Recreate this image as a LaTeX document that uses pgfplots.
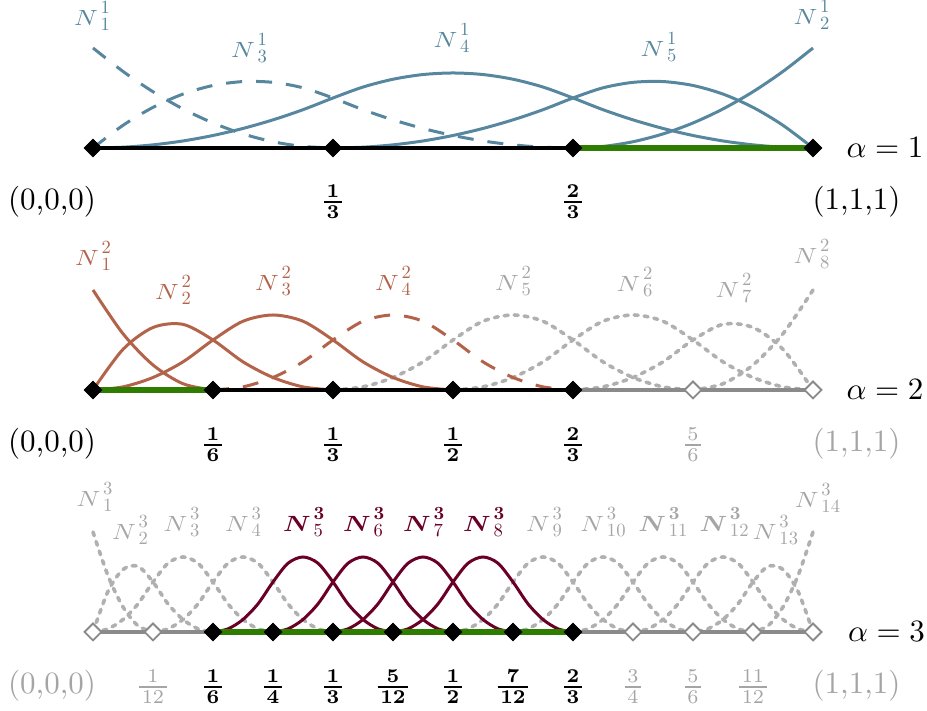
\documentclass[border=0pt]{standalone}
\usepackage{bm}
\usepackage{pgfplots}
\pgfplotsset{compat=1.18}
\definecolor{cblue}{HTML}{56879E}
\definecolor{cbrown}{HTML}{B4634B}
\definecolor{cred}{HTML}{6A0028}
\definecolor{cgreen}{HTML}{2E7D00}
\definecolor{cdot}{HTML}{B0B0B0}
\definecolor{cline}{HTML}{8A8A8A}
\definecolor{clab}{HTML}{A5A5A5}
\tikzset{mylab/.style={scale=1.55, inner sep=0pt},
         myfr/.style={scale=1.4, inner sep=0pt},
         myN/.style={inner sep=0pt}}
\newcommand\bfr[2]{\frac{\mkern2mu\mathbf{#1}\mkern2mu}{\mkern2mu\mathbf{#2}\mkern2mu}}
\newcommand\nfr[2]{\frac{\mkern2mu #1\mkern2mu}{\mkern2mu #2\mkern2mu}}
% N label: #1 = N glyph (math), #2 = superscript, #3 = subscript
\newcommand\NN[3]{\scalebox{1.3}[1.1]{$#1$}\hspace{1.4pt}\rlap{\raisebox{5.85pt}{\scalebox{0.93}{#2}}}\raisebox{-2.5pt}{\scalebox{0.93}{#3}}}
\pgfplotsset{
  myrow/.style={hide axis, clip=false, x=7.5pt, y=50pt, xmin=-6.2, xmax=55.6, ymin=-5.63, ymax=1.48, anchor=south west},
  mycurve/.style={line width=1.5pt, smooth},
  mydash/.style={dash pattern=on 8pt off 7pt},
  mydot/.style={cdot, line width=1.8pt, smooth, dash pattern=on 2pt off 3pt, line cap=round},
  mybase/.style={line width=1.6pt},
  mygreen/.style={cgreen, line width=3.2pt},
  mybd/.style={only marks, mark=square*, mark size=3.1pt, mark options={rotate=45, fill=black, draw=black}},
  myhd/.style={only marks, mark=square*, mark size=3.0pt, mark options={rotate=45, fill=white, draw=cline, line width=0.9pt}},
}
\begin{document}
\begin{tikzpicture}
% ---------------- Row 1 ----------------
\begin{axis}[myrow, at={(0,0)}]
\addplot[cblue, mycurve, mydash] coordinates {(0,1)(2,0.7656)(4,0.5625)(6,0.3906)(8,0.25)(10,0.1406)(12,0.0625)(14,0.0156)(16,0)};
\addplot[cblue, mycurve, mydash] coordinates {(0,0)(2,0.2266)(4,0.4063)(6,0.5391)(8,0.625)(10,0.6641)(12,0.6563)(14,0.6016)(16,0.5)(18,0.3828)(20,0.2813)(22,0.1953)(24,0.125)(26,0.0703)(28,0.0313)(30,0.0078)(32,0)};
\addplot[cblue, mycurve] coordinates {(0,0)(2,0.0078)(4,0.0313)(6,0.0703)(8,0.125)(10,0.1953)(12,0.2813)(14,0.3828)(16,0.5)(18,0.6094)(20,0.6875)(22,0.7344)(24,0.75)(26,0.7344)(28,0.6875)(30,0.6094)(32,0.5)(34,0.3828)(36,0.2813)(38,0.1953)(40,0.125)(42,0.0703)(44,0.0313)(46,0.0078)(48,0)};
\addplot[cblue, mycurve] coordinates {(48,0)(46,0.2266)(44,0.4063)(42,0.5391)(40,0.625)(38,0.6641)(36,0.6563)(34,0.6016)(32,0.5)(30,0.3828)(28,0.2813)(26,0.1953)(24,0.125)(22,0.0703)(20,0.0313)(18,0.0078)(16,0)};
\addplot[cblue, mycurve] coordinates {(48,1)(46,0.7656)(44,0.5625)(42,0.3906)(40,0.25)(38,0.1406)(36,0.0625)(34,0.0156)(32,0)};
\addplot[black, mybase] coordinates {(0,0)(48,0)};
\addplot[mygreen] coordinates {(32,0)(48,0)};
\addplot[mybd] coordinates {(0,0)(16,0)(32,0)(48,0)};
\node[myN, text=cblue] at (axis cs:-0.07,1.32) {\NN{N}{1}{1}};
\node[myN, text=cblue] at (axis cs:10.4,1.0) {\NN{N}{1}{3}};
\node[myN, text=cblue] at (axis cs:23.9,1.10) {\NN{N}{1}{4}};
\node[myN, text=cblue] at (axis cs:37.7,1.01) {\NN{N}{1}{5}};
\node[myN, text=cblue] at (axis cs:47.9,1.33) {\NN{N}{1}{2}};
\node[mylab] at (axis cs:52.8,0) {$\alpha = 1$};
\node[mylab] at (axis cs:-2.73,-0.54) {(0,0,0)};
\node[myfr] at (axis cs:16,-0.54) {$\bfr{1}{3}$};
\node[myfr] at (axis cs:32,-0.54) {$\bfr{2}{3}$};
\node[mylab] at (axis cs:50.9,-0.54) {(1,1,1)};
\end{axis}
% ---------------- Row 2 ----------------
\begin{axis}[myrow, at={(0,-121pt)}]
\addplot[mydot] coordinates {(16,0)(18,0.0313)(20,0.125)(22,0.2813)(24,0.5)(26,0.6875)(28,0.75)(30,0.6875)(32,0.5)(34,0.2813)(36,0.125)(38,0.0313)(40,0)};
\addplot[mydot] coordinates {(24,0)(26,0.0313)(28,0.125)(30,0.2813)(32,0.5)(34,0.6875)(36,0.75)(38,0.6875)(40,0.5)(42,0.2813)(44,0.125)(46,0.0313)(48,0)};
\addplot[mydot] coordinates {(48,0)(46,0.4063)(44,0.625)(42,0.6563)(40,0.5)(38,0.2813)(36,0.125)(34,0.0313)(32,0)};
\addplot[mydot] coordinates {(48,1)(46,0.5625)(44,0.25)(42,0.0625)(40,0)};
\addplot[cbrown, mycurve] coordinates {(0,1)(2,0.5625)(4,0.25)(6,0.0625)(8,0)};
\addplot[cbrown, mycurve] coordinates {(0,0)(2,0.4063)(4,0.625)(6,0.6563)(8,0.5)(10,0.2813)(12,0.125)(14,0.0313)(16,0)};
\addplot[cbrown, mycurve] coordinates {(0,0)(2,0.0313)(4,0.125)(6,0.2813)(8,0.5)(10,0.6875)(12,0.75)(14,0.6875)(16,0.5)(18,0.2813)(20,0.125)(22,0.0313)(24,0)};
\addplot[cbrown, mycurve, mydash] coordinates {(8,0)(10,0.0313)(12,0.125)(14,0.2813)(16,0.5)(18,0.6875)(20,0.75)(22,0.6875)(24,0.5)(26,0.2813)(28,0.125)(30,0.0313)(32,0)};
\addplot[black, mybase] coordinates {(0,0)(32,0)};
\addplot[cline, mybase] coordinates {(32,0)(48,0)};
\addplot[mygreen] coordinates {(0,0)(8,0)};
\addplot[mybd] coordinates {(0,0)(8,0)(16,0)(24,0)(32,0)};
\addplot[myhd] coordinates {(40,0)(48,0)};
\node[myN, text=cbrown] at (axis cs:0,1.34) {\NN{N}{2}{1}};
\node[myN, text=cbrown] at (axis cs:5.33,1.0) {\NN{N}{2}{2}};
\node[myN, text=cbrown] at (axis cs:12,1.09) {\NN{N}{2}{3}};
\node[myN, text=cbrown] at (axis cs:20,1.09) {\NN{N}{2}{4}};
\node[myN, text=clab] at (axis cs:28,1.09) {\NN{N}{2}{5}};
\node[myN, text=clab] at (axis cs:36.1,1.08) {\NN{N}{2}{6}};
\node[myN, text=clab] at (axis cs:42.7,1.02) {\NN{N}{2}{7}};
\node[myN, text=clab] at (axis cs:47.9,1.36) {\NN{N}{2}{8}};
\node[mylab] at (axis cs:52.8,0) {$\alpha = 2$};
\node[mylab] at (axis cs:-2.73,-0.54) {(0,0,0)};
\node[myfr] at (axis cs:8,-0.55) {$\bfr{1}{6}$};
\node[myfr] at (axis cs:16,-0.55) {$\bfr{1}{3}$};
\node[myfr] at (axis cs:24,-0.55) {$\bfr{1}{2}$};
\node[myfr] at (axis cs:32,-0.55) {$\bfr{2}{3}$};
\node[myfr, text=clab] at (axis cs:40,-0.55) {$\nfr{5}{6}$};
\node[mylab, text=clab] at (axis cs:50.9,-0.54) {(1,1,1)};
\end{axis}
% ---------------- Row 3 ----------------
\begin{axis}[myrow, at={(0,-242pt)}]
\addplot[mydot] coordinates {(0,1)(1,0.5625)(2,0.25)(3,0.0625)(4,0)};
\addplot[mydot] coordinates {(0,0)(1,0.4063)(2,0.625)(3,0.6563)(4,0.5)(5,0.2813)(6,0.125)(7,0.0313)(8,0)};
\addplot[mydot] coordinates {(0,0)(1,0.0313)(2,0.125)(3,0.2813)(4,0.5)(5,0.6875)(6,0.75)(7,0.6875)(8,0.5)(9,0.2813)(10,0.125)(11,0.0313)(12,0)};
\addplot[mydot] coordinates {(4,0)(5,0.0313)(6,0.125)(7,0.2813)(8,0.5)(9,0.6875)(10,0.75)(11,0.6875)(12,0.5)(13,0.2813)(14,0.125)(15,0.0313)(16,0)};
\addplot[mydot] coordinates {(24,0)(25,0.0313)(26,0.125)(27,0.2813)(28,0.5)(29,0.6875)(30,0.75)(31,0.6875)(32,0.5)(33,0.2813)(34,0.125)(35,0.0313)(36,0)};
\addplot[mydot] coordinates {(28,0)(29,0.0313)(30,0.125)(31,0.2813)(32,0.5)(33,0.6875)(34,0.75)(35,0.6875)(36,0.5)(37,0.2813)(38,0.125)(39,0.0313)(40,0)};
\addplot[mydot] coordinates {(32,0)(33,0.0313)(34,0.125)(35,0.2813)(36,0.5)(37,0.6875)(38,0.75)(39,0.6875)(40,0.5)(41,0.2813)(42,0.125)(43,0.0313)(44,0)};
\addplot[mydot] coordinates {(36,0)(37,0.0313)(38,0.125)(39,0.2813)(40,0.5)(41,0.6875)(42,0.75)(43,0.6875)(44,0.5)(45,0.2813)(46,0.125)(47,0.0313)(48,0)};
\addplot[mydot] coordinates {(48,0)(47,0.4063)(46,0.625)(45,0.6563)(44,0.5)(43,0.2813)(42,0.125)(41,0.0313)(40,0)};
\addplot[mydot] coordinates {(48,1)(47,0.5625)(46,0.25)(45,0.0625)(44,0)};
\addplot[cred, mycurve] coordinates {(8,0)(9,0.0313)(10,0.125)(11,0.2813)(12,0.5)(13,0.6875)(14,0.75)(15,0.6875)(16,0.5)(17,0.2813)(18,0.125)(19,0.0313)(20,0)};
\addplot[cred, mycurve] coordinates {(12,0)(13,0.0313)(14,0.125)(15,0.2813)(16,0.5)(17,0.6875)(18,0.75)(19,0.6875)(20,0.5)(21,0.2813)(22,0.125)(23,0.0313)(24,0)};
\addplot[cred, mycurve] coordinates {(16,0)(17,0.0313)(18,0.125)(19,0.2813)(20,0.5)(21,0.6875)(22,0.75)(23,0.6875)(24,0.5)(25,0.2813)(26,0.125)(27,0.0313)(28,0)};
\addplot[cred, mycurve] coordinates {(20,0)(21,0.0313)(22,0.125)(23,0.2813)(24,0.5)(25,0.6875)(26,0.75)(27,0.6875)(28,0.5)(29,0.2813)(30,0.125)(31,0.0313)(32,0)};
\addplot[cline, mybase] coordinates {(0,0)(8,0)};
\addplot[cline, mybase] coordinates {(32,0)(48,0)};
\addplot[mygreen] coordinates {(8,0)(32,0)};
\addplot[mybd] coordinates {(8,0)(12,0)(16,0)(20,0)(24,0)(28,0)(32,0)};
\addplot[myhd] coordinates {(0,0)(4,0)(36,0)(40,0)(44,0)(48,0)};
\node[myN, text=clab] at (axis cs:0.1,1.35) {\NN{N}{3}{1}};
\node[myN, text=clab] at (axis cs:2.47,1.02) {\NN{N}{3}{2}};
\node[myN, text=clab] at (axis cs:5.9,1.10) {\NN{N}{3}{3}};
\node[myN, text=clab] at (axis cs:10,1.10) {\NN{N}{3}{4}};
\node[myN, text=cred] at (axis cs:14,1.10) {\NN{\bm{N}}{\textbf{3}}{5}};
\node[myN, text=cred] at (axis cs:18,1.10) {\NN{\bm{N}}{\textbf{3}}{6}};
\node[myN, text=cred] at (axis cs:22,1.10) {\NN{\bm{N}}{\textbf{3}}{7}};
\node[myN, text=cred] at (axis cs:26,1.10) {\NN{\bm{N}}{\textbf{3}}{8}};
\node[myN, text=clab] at (axis cs:30.07,1.10) {\NN{N}{3}{9}};
\node[myN, text=clab] at (axis cs:34,1.10) {\NN{N}{3}{10}};
\node[myN, text=clab] at (axis cs:38,1.10) {\NN{\bm{N}}{\textbf{3}}{11}};
\node[myN, text=clab] at (axis cs:42.07,1.10) {\NN{\bm{N}}{\textbf{3}}{12}};
\node[myN, text=clab] at (axis cs:45.5,1.02) {\NN{N}{3}{13}};
\node[myN, text=clab] at (axis cs:48.3,1.34) {\NN{N}{3}{14}};
\node[mylab] at (axis cs:52.9,0) {$\alpha = 3$};
\node[mylab, text=clab] at (axis cs:-2.73,-0.54) {(0,0,0)};
\node[myfr, text=clab] at (axis cs:4,-0.55) {$\nfr{1}{12}$};
\node[myfr] at (axis cs:8,-0.55) {$\bfr{1}{6}$};
\node[myfr] at (axis cs:12,-0.55) {$\bfr{1}{4}$};
\node[myfr] at (axis cs:16,-0.55) {$\bfr{1}{3}$};
\node[myfr] at (axis cs:20,-0.55) {$\bfr{5}{12}$};
\node[myfr] at (axis cs:24,-0.55) {$\bfr{1}{2}$};
\node[myfr] at (axis cs:28,-0.55) {$\bfr{7}{12}$};
\node[myfr] at (axis cs:32,-0.55) {$\bfr{2}{3}$};
\node[myfr, text=clab] at (axis cs:36,-0.55) {$\nfr{3}{4}$};
\node[myfr, text=clab] at (axis cs:40,-0.55) {$\nfr{5}{6}$};
\node[myfr, text=clab] at (axis cs:44,-0.55) {$\nfr{11}{12}$};
\node[mylab, text=clab] at (axis cs:50.9,-0.54) {(1,1,1)};
\end{axis}
\pgfresetboundingbox
\path (0,0) rectangle (463.5pt,355.5pt);
\end{tikzpicture}
\end{document}
